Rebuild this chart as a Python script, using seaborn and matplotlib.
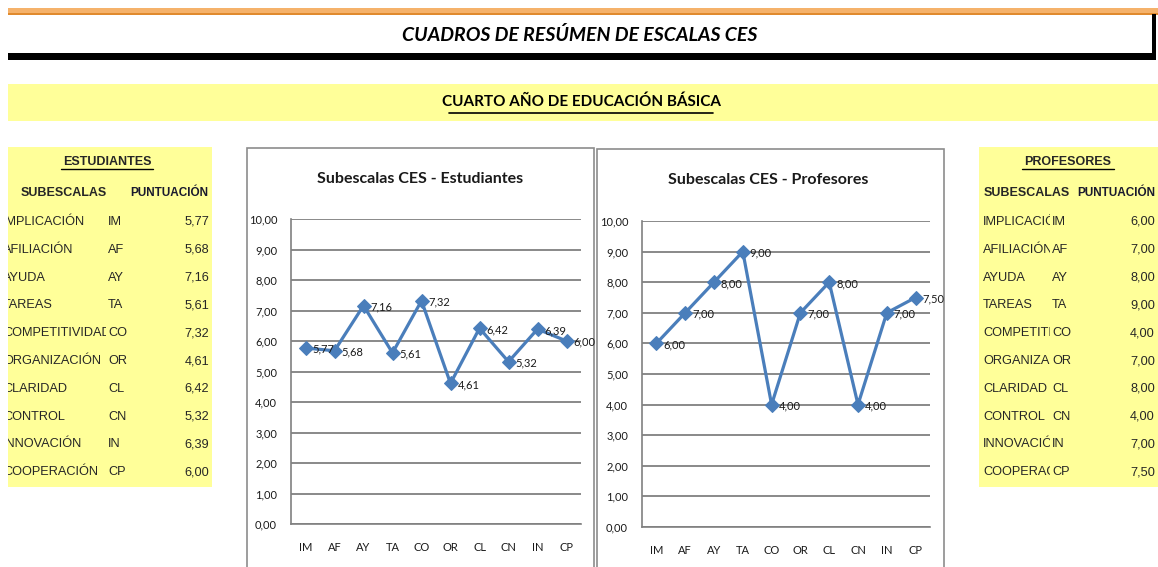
import numpy as np
import pandas as pd
import matplotlib
matplotlib.use("Agg")
import matplotlib.pyplot as plt
import seaborn as sns
from matplotlib.patches import Rectangle
from matplotlib.lines import Line2D

# ---------------- data ----------------
codes = ["IM", "AF", "AY", "TA", "CO", "OR", "CL", "CN", "IN", "CP"]
names = ["IMPLICACIÓN", "AFILIACIÓN", "AYUDA", "TAREAS", "COMPETITIVIDAD",
         "ORGANIZACIÓN", "CLARIDAD", "CONTROL", "INNOVACIÓN", "COOPERACIÓN"]
estudiantes = [5.77, 5.68, 7.16, 5.61, 7.32, 4.61, 6.42, 5.32, 6.39, 6.00]
profesores = [6.00, 7.00, 8.00, 9.00, 4.00, 7.00, 8.00, 4.00, 7.00, 7.50]
y_ticks = [0, 1, 2, 3, 4, 5, 6, 7, 8, 9, 10]

main_title = "CUADROS DE RESÚMEN DE ESCALAS CES"
sub_title = "CUARTO AÑO DE EDUCACIÓN BÁSICA"
chart_titles = ["Subescalas CES - Estudiantes", "Subescalas CES - Profesores"]
table_titles = ["ESTUDIANTES", "PROFESORES"]

# ---------------- style ----------------
sns.set_style("white")
ARIAL = ["Liberation Sans", "DejaVu Sans"]
CALIBRI = ["Lato", "DejaVu Sans"]
plt.rcParams["font.family"] = CALIBRI

W, H = 1158, 567
fig = plt.figure(figsize=(W / 100, H / 100), dpi=100)
fig.patch.set_facecolor("white")

BLUE = "#4A7EBB"
GRID = "#808080"
YELLOW = "#FFFF99"


def fx(x):
    return x / W


def fy(y):
    return 1 - y / H


def rect(x0, y0, x1, y1, **kw):
    kw.setdefault("zorder", -5)
    r = Rectangle((fx(x0), fy(y1)), (x1 - x0) / W, (y1 - y0) / H,
                  transform=fig.transFigure, **kw)
    fig.patches.append(r)
    return r


def hline(x0, x1, y, **kw):
    fig.lines.append(Line2D([fx(x0), fx(x1)], [fy(y), fy(y)],
                            transform=fig.transFigure, **kw))


def ftext(x, y, s, **kw):
    return fig.text(fx(x), fy(y), s, **kw)


def fmt(v):
    return f"{v:.2f}".replace(".", ",")


# ---------------- header ----------------
rect(8, 8, 1158, 13, facecolor="#F5B26B", edgecolor="none")
rect(8, 13, 1158, 15, facecolor="#E08A2E", edgecolor="none")
rect(8, 53, 1156, 60, facecolor="black", edgecolor="none")
rect(1152, 14, 1156, 60, facecolor="black", edgecolor="none")
ftext(580, 35, main_title, ha="center", va="center", fontsize=14,
      fontweight="bold", fontstyle="italic", color="black", family=CALIBRI)

rect(8, 84, 1158, 121, facecolor=YELLOW, edgecolor="none")
ftext(581, 102, sub_title, ha="center", va="center", fontsize=11,
      fontweight="bold", color="black", family=CALIBRI)
hline(449, 713, 113, color="black", lw=1.2)

# ---------------- tables ----------------
row_y = [222 + 27.8 * i for i in range(10)]


def draw_table(x0, x1, title, title_cx, sub_cx, punt_right, name_x, name_clip,
               code_x, val_right, values):
    rect(x0, 147, x1, 487, facecolor=YELLOW, edgecolor="none")
    ftext(title_cx, 162, title, ha="center", va="center", fontsize=9,
          fontweight="bold", family=ARIAL)
    hline(title_cx - 46, title_cx + 46, 169, color="black", lw=1.0)
    ftext(sub_cx, 193, "SUBESCALAS", ha="center", va="center", fontsize=9,
          fontweight="bold", family=ARIAL)
    ftext(punt_right, 193, "PUNTUACIÓN", ha="right", va="center",
          fontsize=8.5, fontweight="bold", color="#1a1a2e", family=ARIAL)
    clip = Rectangle((fx(name_clip[0]), 0), (name_clip[1] - name_clip[0]) / W, 1,
                     transform=fig.transFigure, visible=False)
    fig.patches.append(clip)
    for yy, nm, cd, v in zip(row_y, names, codes, values):
        tn = ftext(name_x, yy, nm, ha="left", va="center", fontsize=9.2,
                   family=ARIAL)
        tn.set_clip_path(clip)
        ftext(code_x, yy, cd, ha="left", va="center", fontsize=9.2,
              family=ARIAL)
        ftext(val_right, yy, fmt(v), ha="right", va="center", fontsize=9.2,
              family=ARIAL)


draw_table(8, 212, table_titles[0], 107, 64, 208, 3, (8, 106), 108, 209,
           estudiantes)
draw_table(979, 1158, table_titles[1], 1068, 1027, 1155, 983, (979, 1050), 1052,
           1155, profesores)


# ---------------- charts ----------------
def draw_chart(box, plot, title, title_cx, values):
    bx0, by0, bx1 = box
    rect(bx0, by0, bx1, 575, facecolor="white", edgecolor="#8C8C8C", lw=1.2)
    ftext(title_cx, by0 + 31, title, ha="center", va="center", fontsize=11.5,
          fontweight="bold", color="#1a1a1a")
    px0, py0, px1, py1 = plot
    ax = fig.add_axes([fx(px0), fy(py1), (px1 - px0) / W, (py1 - py0) / H])
    ax.set_facecolor("none")
    df = pd.DataFrame({"code": codes, "value": values})
    sns.lineplot(data=df, x="code", y="value", ax=ax, sort=False,
                 color=BLUE, linewidth=2.3, marker="D", markersize=7,
                 markeredgecolor=BLUE, errorbar=None)
    for c, v in zip(codes, values):
        ax.annotate(fmt(v), xy=(c, v), xytext=(5, -1), textcoords="offset points",
                    ha="left", va="center", fontsize=8, color="#1a1a1a")
    ax.set_xlim(-0.5, 9.5)
    ax.set_ylim(0, 10)
    ax.set_yticks(y_ticks)
    ax.set_yticklabels([fmt(v) for v in y_ticks])
    ax.set_xticks(np.arange(-0.5, 10, 1), minor=True)
    ax.yaxis.grid(True, color=GRID, lw=1.3)
    ax.xaxis.grid(False)
    ax.set_axisbelow(True)
    for s in ["top", "right"]:
        ax.spines[s].set_visible(False)
    for s in ["left", "bottom"]:
        ax.spines[s].set_color(GRID)
        ax.spines[s].set_linewidth(1.2)
    ax.tick_params(axis="x", which="major", length=0, pad=13, labelsize=8,
                   labelcolor="#1a1a1a")
    ax.tick_params(axis="x", which="minor", length=5, color=GRID, width=1.2,
                   direction="out")
    ax.tick_params(axis="y", which="major", length=5, color=GRID, width=1.2,
                   direction="out", pad=5, labelsize=8, labelcolor="#1a1a1a")
    ax.set_xlabel("")
    ax.set_ylabel("")
    return ax


draw_chart((247, 148, 594), (291, 219, 581, 524), chart_titles[0], 420,
           estudiantes)
draw_chart((597, 149, 944), (642, 221, 930, 527), chart_titles[1], 768,
           profesores)

fig.savefig("out.png", dpi=100, facecolor="white")
